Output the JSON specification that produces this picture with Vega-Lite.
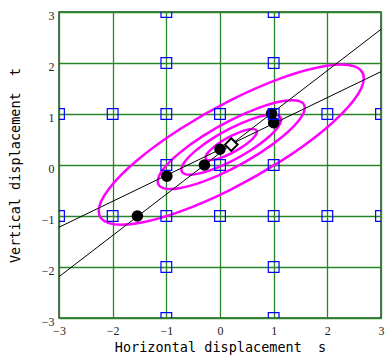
{
  "$schema": "https://vega.github.io/schema/vega-lite/v6.json",
  "width": 322,
  "height": 306,
  "autosize": {"type": "none"},
  "padding": {"left": 59, "top": 12, "right": 5, "bottom": 38},
  "background": "white",
  "config": {
    "view": {"stroke": "#1e4a1e", "strokeWidth": 1.5},
    "axis": {
      "labelFont": "Liberation Serif",
      "labelFontSize": 12,
      "labelColor": "#222222",
      "labelFlush": false,
      "labelOverlap": false,
      "titleFont": "DejaVu Sans Mono",
      "titleFontSize": 13.5,
      "titleFontWeight": "normal",
      "titleColor": "black",
      "domain": false,
      "ticks": false,
      "tickSize": 0,
      "grid": true,
      "gridColor": "#2a842a",
      "gridWidth": 1.3,
      "gridOpacity": 1
    }
  },
  "datasets": {
    "ell": [
      {"e":1,"i":0,"x":0.69,"y":0.653},{"e":1,"i":1,"x":0.653,"y":0.699},{"e":1,"i":2,"x":0.549,"y":0.699},{"e":1,"i":3,"x":0.394,"y":0.654},
      {"e":1,"i":4,"x":0.21,"y":0.570},{"e":1,"i":5,"x":0.026,"y":0.460},{"e":1,"i":6,"x":-0.129,"y":0.341},{"e":1,"i":7,"x":-0.234,"y":0.231},
      {"e":1,"i":8,"x":-0.27,"y":0.147},{"e":1,"i":9,"x":-0.234,"y":0.101},{"e":1,"i":10,"x":-0.129,"y":0.101},{"e":1,"i":11,"x":0.026,"y":0.146},
      {"e":1,"i":12,"x":0.21,"y":0.230},{"e":1,"i":13,"x":0.394,"y":0.340},{"e":1,"i":14,"x":0.549,"y":0.459},{"e":1,"i":15,"x":0.653,"y":0.569},
      {"e":2,"i":0,"x":1.14,"y":0.890},{"e":2,"i":1,"x":1.069,"y":0.978},{"e":2,"i":2,"x":0.868,"y":0.979},{"e":2,"i":3,"x":0.566,"y":0.891},
      {"e":2,"i":4,"x":0.21,"y":0.729},{"e":2,"i":5,"x":-0.146,"y":0.517},{"e":2,"i":6,"x":-0.448,"y":0.286},{"e":2,"i":7,"x":-0.649,"y":0.074},
      {"e":2,"i":8,"x":-0.72,"y":-0.090},{"e":2,"i":9,"x":-0.649,"y":-0.178},{"e":2,"i":10,"x":-0.448,"y":-0.179},{"e":2,"i":11,"x":-0.146,"y":-0.091},
      {"e":2,"i":12,"x":0.21,"y":0.071},{"e":2,"i":13,"x":0.566,"y":0.283},{"e":2,"i":14,"x":0.868,"y":0.514},{"e":2,"i":15,"x":1.069,"y":0.726},
      {"e":3,"i":0,"x":1.58,"y":1.122},{"e":3,"i":1,"x":1.476,"y":1.253},{"e":3,"i":2,"x":1.179,"y":1.254},{"e":3,"i":3,"x":0.734,"y":1.125},
      {"e":3,"i":4,"x":0.21,"y":0.885},{"e":3,"i":5,"x":-0.314,"y":0.572},{"e":3,"i":6,"x":-0.759,"y":0.233},{"e":3,"i":7,"x":-1.056,"y":-0.081},
      {"e":3,"i":8,"x":-1.16,"y":-0.322},{"e":3,"i":9,"x":-1.056,"y":-0.453},{"e":3,"i":10,"x":-0.759,"y":-0.454},{"e":3,"i":11,"x":-0.314,"y":-0.325},
      {"e":3,"i":12,"x":0.21,"y":-0.085},{"e":3,"i":13,"x":0.734,"y":0.228},{"e":3,"i":14,"x":1.179,"y":0.568},{"e":3,"i":15,"x":1.476,"y":0.881},
      {"e":4,"i":0,"x":2.68,"y":1.703},{"e":4,"i":1,"x":2.492,"y":1.939},{"e":4,"i":2,"x":1.957,"y":1.941},{"e":4,"i":3,"x":1.155,"y":1.708},
      {"e":4,"i":4,"x":0.21,"y":1.276},{"e":4,"i":5,"x":-0.735,"y":0.710},{"e":4,"i":6,"x":-1.537,"y":0.098},{"e":4,"i":7,"x":-2.072,"y":-0.469},
      {"e":4,"i":8,"x":-2.26,"y":-0.903},{"e":4,"i":9,"x":-2.072,"y":-1.139},{"e":4,"i":10,"x":-1.537,"y":-1.141},{"e":4,"i":11,"x":-0.735,"y":-0.908},
      {"e":4,"i":12,"x":0.21,"y":-0.476},{"e":4,"i":13,"x":1.155,"y":0.090},{"e":4,"i":14,"x":1.957,"y":0.702},{"e":4,"i":15,"x":2.492,"y":1.269}
    ],
    "lines": [
      {"l":"a","x":-3,"y":-2.19},{"l":"a","x":3,"y":2.66},
      {"l":"b","x":-3,"y":-1.22},{"l":"b","x":3,"y":1.83}
    ],
    "pts": [
      {"x":-1.54,"y":-1.0},{"x":-0.99,"y":-0.22},{"x":-0.29,"y":0.0},
      {"x":0.0,"y":0.31},{"x":0.96,"y":1.01},{"x":1.0,"y":0.83}
    ],
    "grid": [
      {"x":-1,"y":3},{"x":1,"y":3},{"x":-1,"y":2},{"x":1,"y":2},
      {"x":-3,"y":1},{"x":-2,"y":1},{"x":-1,"y":1},{"x":0,"y":1},{"x":1,"y":1},{"x":2,"y":1},{"x":3,"y":1},
      {"x":-1,"y":0},{"x":0,"y":0},{"x":1,"y":0},
      {"x":-3,"y":-1},{"x":-2,"y":-1},{"x":-1,"y":-1},{"x":0,"y":-1},{"x":1,"y":-1},{"x":2,"y":-1},{"x":3,"y":-1},
      {"x":-1,"y":-2},{"x":1,"y":-2},{"x":-1,"y":-3},{"x":1,"y":-3}
    ],
    "center": [{"x":0.21,"y":0.40}]
  },
  "encoding": {
    "x": {
      "field": "x", "type": "quantitative",
      "scale": {"domain": [-3, 3], "nice": false, "zero": false},
      "axis": {"values": [-3,-2,-1,0,1,2,3], "format": "d", "labelPadding": 7, "title": "Horizontal displacement\u00a0\u00a0s", "titlePadding": 4}
    },
    "y": {
      "field": "y", "type": "quantitative",
      "scale": {"domain": [-3, 3], "nice": false, "zero": false},
      "axis": {"values": [-3,-2,-1,0,1,2,3], "format": "d", "labelPadding": 5, "labelOffset": 3, "title": "Vertical displacement\u00a0\u00a0t", "titlePadding": 19}
    }
  },
  "layer": [
    {
      "data": {"name": "ell"},
      "mark": {"type": "line", "interpolate": "cardinal-closed", "color": "#ff00ff", "strokeWidth": 2.5},
      "encoding": {"detail": {"field": "e", "type": "nominal"}, "order": {"field": "i", "type": "quantitative"}}
    },
    {
      "data": {"name": "lines"},
      "mark": {"type": "line", "color": "black", "strokeWidth": 1, "clip": true},
      "encoding": {"detail": {"field": "l", "type": "nominal"}}
    },
    {
      "data": {"name": "pts"},
      "mark": {"type": "point", "shape": "circle", "filled": true, "color": "black", "size": 135, "opacity": 1}
    },
    {
      "data": {"name": "grid"},
      "mark": {"type": "point", "shape": "square", "filled": false, "color": "#0000ff", "size": 115, "strokeWidth": 1.2, "opacity": 1, "clip": true}
    },
    {
      "data": {"name": "center"},
      "mark": {"type": "point", "shape": "diamond", "filled": false, "fill": "white", "fillOpacity": 1, "color": "black", "size": 160, "strokeWidth": 2, "opacity": 1}
    }
  ]
}
